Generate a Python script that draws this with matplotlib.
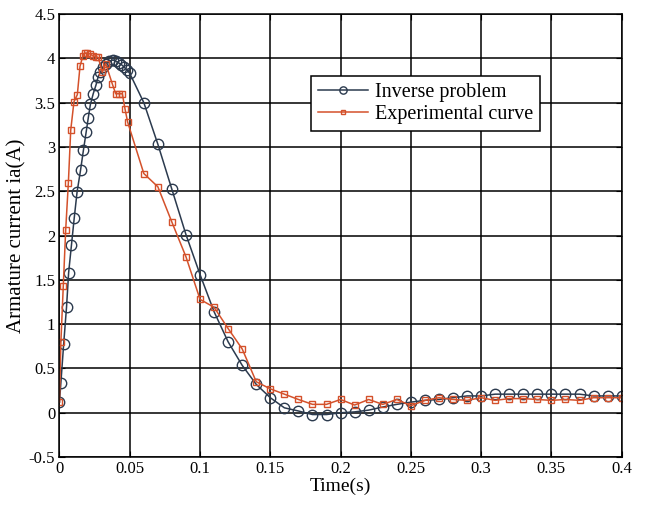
import numpy as np
import matplotlib
matplotlib.use("Agg")
import matplotlib.pyplot as plt

# Inverse problem (circles)
t_inv = [0.0, 0.001, 0.003, 0.005, 0.0065, 0.0085, 0.0105, 0.0125, 0.015, 0.017,
         0.019, 0.0205, 0.022, 0.024, 0.026, 0.0275, 0.029, 0.031, 0.033, 0.0355,
         0.038, 0.040, 0.042, 0.044, 0.046, 0.048, 0.050,
         0.06, 0.07, 0.08, 0.09, 0.10, 0.11, 0.12, 0.13, 0.14, 0.15,
         0.16, 0.17, 0.18, 0.19, 0.20, 0.21, 0.22, 0.23, 0.24, 0.25,
         0.26, 0.27, 0.28, 0.29, 0.30, 0.31, 0.32, 0.33, 0.34, 0.35,
         0.36, 0.37, 0.38, 0.39, 0.40]
i_inv = [0.12, 0.34, 0.78, 1.19, 1.58, 1.89, 2.20, 2.49, 2.74, 2.96,
         3.17, 3.33, 3.48, 3.60, 3.70, 3.79, 3.84, 3.90, 3.94, 3.97,
         3.98, 3.97, 3.95, 3.93, 3.90, 3.87, 3.83,
         3.50, 3.03, 2.52, 2.01, 1.56, 1.14, 0.80, 0.535, 0.32, 0.17,
         0.056, 0.02, -0.02, -0.02, 0.0, 0.01, 0.03, 0.065, 0.095, 0.12,
         0.14, 0.15, 0.17, 0.19, 0.19, 0.21, 0.21, 0.21, 0.21, 0.21,
         0.21, 0.21, 0.19, 0.19, 0.19]

# Experimental curve (squares)
t_exp = [0.0, 0.001, 0.0027, 0.0044, 0.0063, 0.008, 0.0103, 0.0127, 0.0146, 0.0167,
         0.018, 0.0198, 0.0217, 0.0236, 0.0257, 0.0276, 0.0305, 0.0329, 0.0376, 0.040,
         0.0424, 0.0447, 0.0466, 0.0485,
         0.06, 0.07, 0.08, 0.09, 0.10, 0.11, 0.12, 0.13, 0.14, 0.15,
         0.16, 0.17, 0.18, 0.19, 0.20, 0.21, 0.22, 0.23, 0.24, 0.25,
         0.26, 0.27, 0.28, 0.29, 0.30, 0.31, 0.32, 0.33, 0.34, 0.35,
         0.36, 0.37, 0.38, 0.39, 0.40]
i_exp = [0.12, 0.80, 1.43, 2.06, 2.59, 3.19, 3.51, 3.59, 3.91, 4.03,
         4.06, 4.06, 4.05, 4.03, 4.02, 4.01, 3.84, 3.94, 3.71, 3.60,
         3.60, 3.60, 3.43, 3.28,
         2.70, 2.55, 2.15, 1.76, 1.28, 1.19, 0.95, 0.72, 0.35, 0.27,
         0.21, 0.15, 0.095, 0.095, 0.15, 0.087, 0.15, 0.095, 0.15, 0.08,
         0.14, 0.17, 0.15, 0.14, 0.17, 0.14, 0.16, 0.16, 0.15, 0.14,
         0.15, 0.14, 0.17, 0.17, 0.17]

plt.rcParams['font.family'] = ['Liberation Serif', 'DejaVu Serif']

fig = plt.figure(figsize=(6.48, 5.09), dpi=100)
ax = fig.add_axes([0.0918, 0.102, 0.8676, 0.8705])

ax.plot(t_inv, i_inv, color='#2b3a4e', lw=1.1, marker='o', ms=7.5,
        mfc='none', mec='#2b3a4e', mew=1.0, label='Inverse problem')
ax.plot(t_exp, i_exp, color='#d4512b', lw=1.1, marker='s', ms=5,
        mfc='none', mec='#d4512b', mew=1.0, label='Experimental curve')

ax.set_xlim(0, 0.4)
ax.set_ylim(-0.5, 4.5)
ax.set_xticks(np.arange(0, 0.401, 0.05))
ax.set_xticklabels(['0', '0.05', '0.1', '0.15', '0.2', '0.25', '0.3', '0.35', '0.4'])
ax.set_yticks(np.arange(-0.5, 4.51, 0.5))
ax.set_yticklabels(['-0.5', '0', '0.5', '1', '1.5', '2', '2.5', '3', '3.5', '4', '4.5'])
ax.grid(True, color='black', lw=1.1, ls='-')
ax.tick_params(direction='in', top=True, right=True, labelsize=12, length=4, pad=3)
for s in ax.spines.values():
    s.set_linewidth(1.1)

ax.set_xlabel('Time(s)', fontsize=14, labelpad=0)
ax.set_ylabel('Armature current ia(A)', fontsize=15, labelpad=2)

leg = ax.legend(loc='upper left', bbox_to_anchor=(0.4475, 0.86), borderaxespad=0,
                numpoints=1, fontsize=14.5, fancybox=False, framealpha=1,
                edgecolor='black', handlelength=2.5, borderpad=0.35,
                labelspacing=0.15, handletextpad=0.3, markerscale=0.7)
leg.get_frame().set_linewidth(1.1)

fig.savefig('out.png', dpi=100)
